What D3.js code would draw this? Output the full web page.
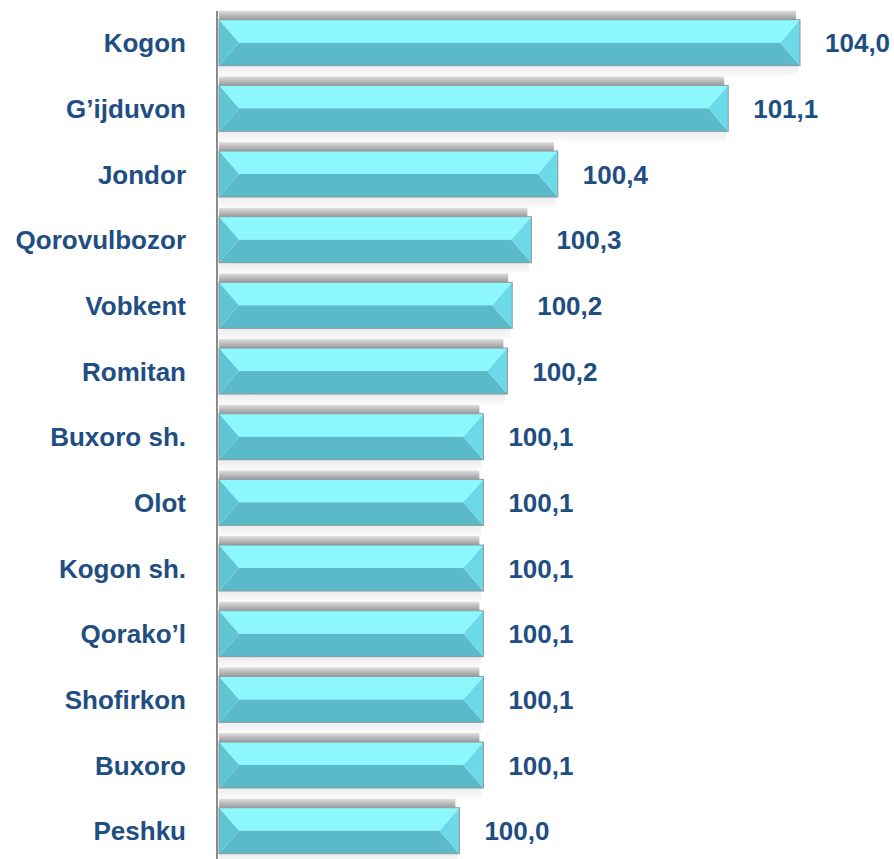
<!DOCTYPE html>
<html>
<head>
<meta charset="utf-8" />
<script src="https://cdn.jsdelivr.net/npm/d3@7"></script>
<style>
  html, body { margin: 0; padding: 0; background: #fff; }
  svg { display: block; }
  text { font-family: "Liberation Sans", Arial, sans-serif; font-weight: bold; fill: #1f4e83; }
</style>
</head>
<body>
<div id="chart"></div>
<script>
// Regions (top to bottom) and their index values
var categories = ["Kogon", "G\u2019ijduvon", "Jondor", "Qorovulbozor", "Vobkent", "Romitan",
    "Buxoro sh.", "Olot", "Kogon sh.", "Qorako\u2019l", "Shofirkon", "Buxoro", "Peshku"];
var values = [104.0, 101.13, 100.42, 100.31, 100.23, 100.21,
    100.11, 100.11, 100.11, 100.11, 100.11, 100.11, 100.01];

var width = 894;
var height = 859;
var axisX = 217;

var svg = d3.select('#chart')
    .append('svg')
    .attr('width', width)
    .attr('height', height);

var defs = svg.append('defs');

// gray "shadow" strip above each bar
var sg = defs.append('linearGradient')
    .attr('id', 'shadowGrad')
    .attr('x1', 0).attr('y1', 0).attr('x2', 0).attr('y2', 1);
sg.append('stop').attr('offset', '0%').attr('stop-color', '#e0e0e0');
sg.append('stop').attr('offset', '35%').attr('stop-color', '#c6c6c6');
sg.append('stop').attr('offset', '100%').attr('stop-color', '#999999');

var bg = defs.append('linearGradient')
    .attr('id', 'belowGrad')
    .attr('x1', 0).attr('y1', 0).attr('x2', 0).attr('y2', 1);
bg.append('stop').attr('offset', '0%').attr('stop-color', '#ececec');
bg.append('stop').attr('offset', '100%').attr('stop-color', '#fafafa');

defs.append('filter').attr('id', 'soft')
    .append('feGaussianBlur').attr('stdDeviation', 0.4);

// x scale has a break: the Kogon bar is squeezed into the plot width
var x = d3.scaleLinear()
    .domain([99, 101.2, 104])
    .range([axisX, axisX + 528, 800]);

var y = d3.scaleBand()
    .domain(categories)
    .range([0, 873.4])
    .padding(0.3);

var fmt = function (v) { return d3.format('.1f')(v).replace('.', ','); };

var rows = categories.map(function (c, i) { return { name: c, value: values[i] }; });

var g = svg.selectAll('g.row')
    .data(rows)
    .enter()
    .append('g')
    .attr('class', 'row');

var bev = 20;
var x0 = axisX + 2;

// strip under the bar
g.append('rect')
    .attr('x', x0)
    .attr('y', function (d) { return y(d.name) + y.bandwidth(); })
    .attr('width', function (d) { return x(d.value) - x0 - 2; })
    .attr('height', 10)
    .attr('fill', 'url(#belowGrad)');

// shadow strip above the bar
g.append('rect')
    .attr('x', x0)
    .attr('y', function (d) { return y(d.name) - 9; })
    .attr('width', function (d) { return x(d.value) - x0 - 4; })
    .attr('height', 9)
    .attr('fill', 'url(#shadowGrad)')
    .attr('filter', 'url(#soft)');

function face(pts) { return 'M' + pts.map(function (p) { return p.join(','); }).join('L') + 'Z'; }

// top face
g.append('path')
    .attr('fill', '#8cf8fe')
    .attr('d', function (d) {
        var t = y(d.name), b = t + y.bandwidth(), m = (t + b) / 2, x1 = x(d.value);
        return face([[x0, t], [x1, t], [x1 - bev, m], [x0 + bev, m]]);
    });
// bottom face
g.append('path')
    .attr('fill', '#5bbac9')
    .attr('d', function (d) {
        var t = y(d.name), b = t + y.bandwidth(), m = (t + b) / 2, x1 = x(d.value);
        return face([[x0 + bev, m], [x1 - bev, m], [x1, b], [x0, b]]);
    });
// left face
g.append('path')
    .attr('fill', '#5fc5d3')
    .attr('d', function (d) {
        var t = y(d.name), b = t + y.bandwidth(), m = (t + b) / 2;
        return face([[x0, t], [x0 + bev, m], [x0, b]]);
    });
// right face
g.append('path')
    .attr('fill', '#6bd9e7')
    .attr('d', function (d) {
        var t = y(d.name), b = t + y.bandwidth(), m = (t + b) / 2, x1 = x(d.value);
        return face([[x1, t], [x1, b], [x1 - bev, m]]);
    });
// outline
g.append('rect')
    .attr('x', x0)
    .attr('y', function (d) { return y(d.name); })
    .attr('width', function (d) { return x(d.value) - x0; })
    .attr('height', y.bandwidth())
    .attr('fill', 'none')
    .attr('stroke', '#8a9a9e')
    .attr('stroke-width', 1);

// category labels
g.append('text')
    .attr('x', 186)
    .attr('y', function (d) { return y(d.name) + y.bandwidth() / 2 + 9.5; })
    .attr('text-anchor', 'end')
    .style('font-size', '26px')
    .text(function (d) { return d.name; });

// value labels
g.append('text')
    .attr('x', function (d) { return x(d.value) + 25; })
    .attr('y', function (d) { return y(d.name) + y.bandwidth() / 2 + 9.5; })
    .style('font-size', '26px')
    .text(function (d) { return fmt(d.value); });

// vertical axis line
svg.append('line')
    .attr('x1', axisX).attr('x2', axisX)
    .attr('y1', 11).attr('y2', height)
    .attr('stroke', '#8a8a8a')
    .attr('stroke-width', 2);
</script>
</body>
</html>
